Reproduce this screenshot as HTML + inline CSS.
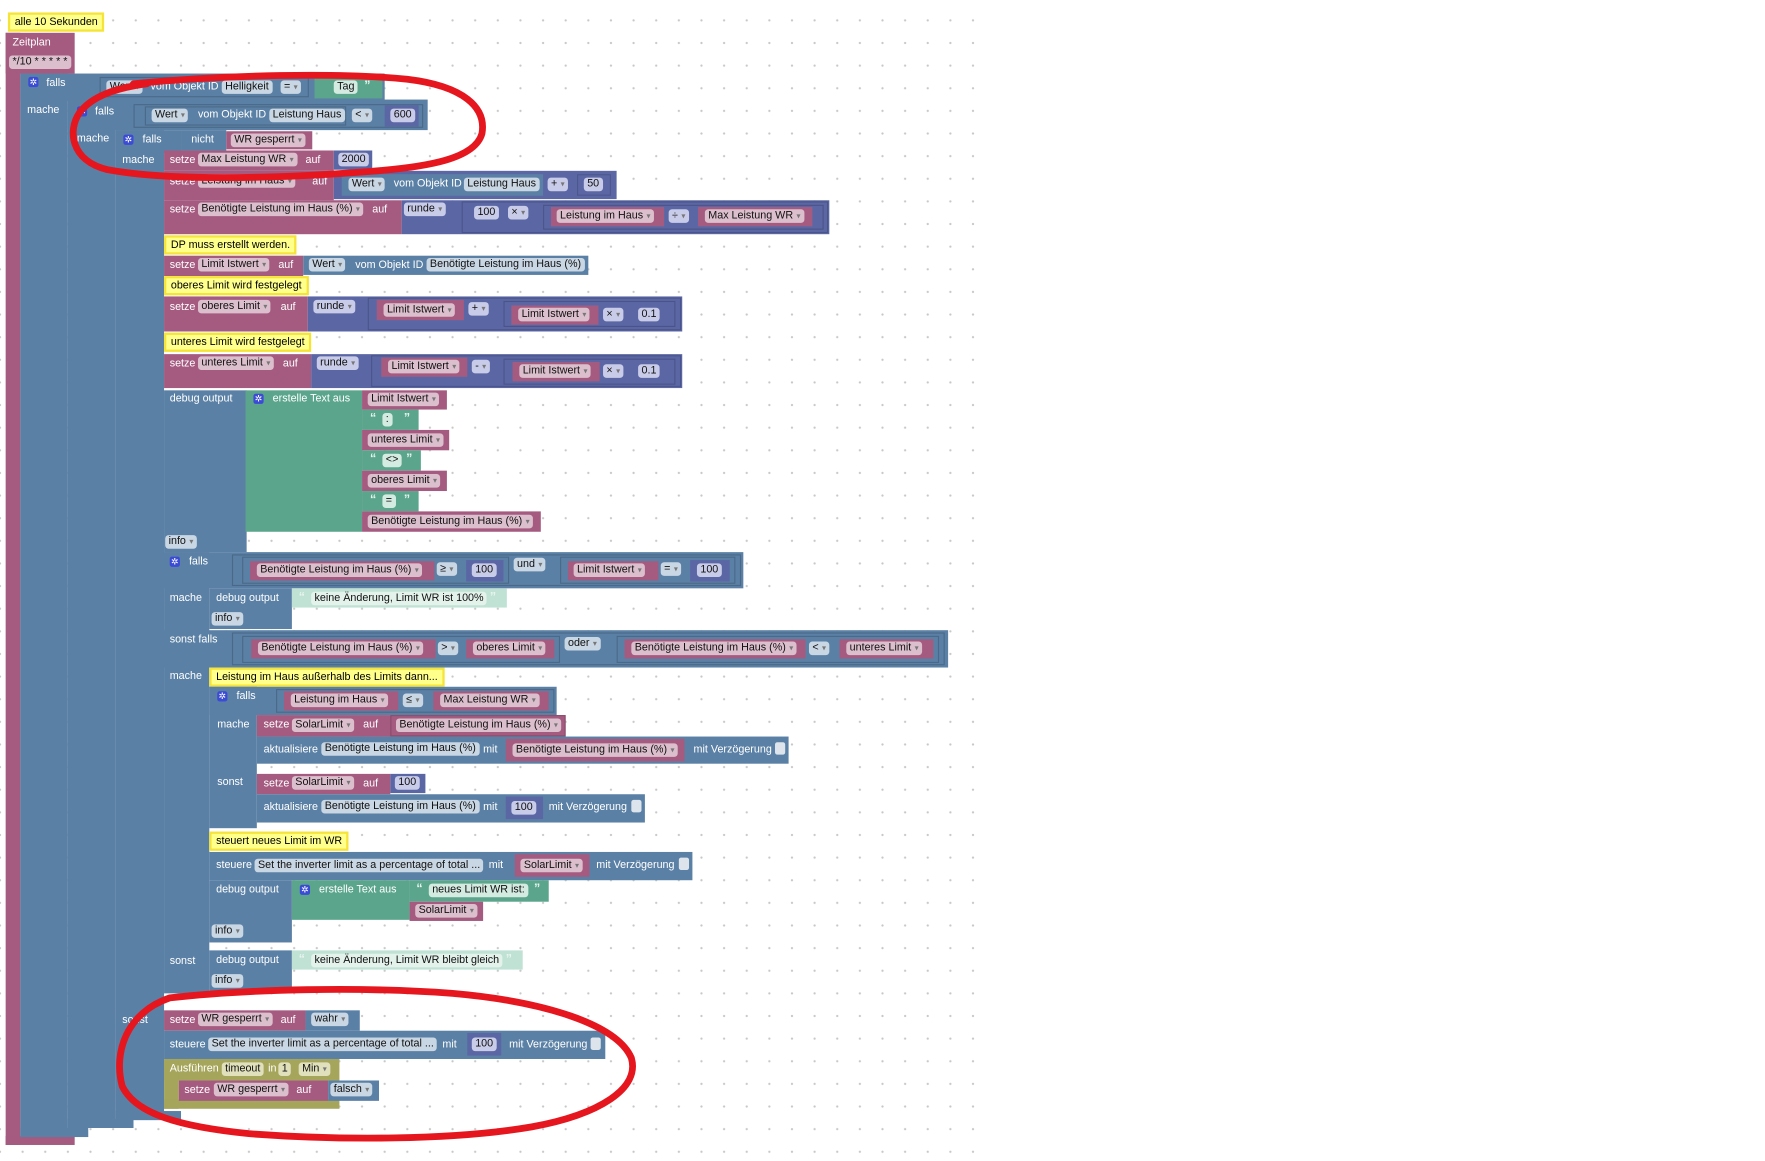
<!DOCTYPE html>
<html><head><meta charset="utf-8"><style>
html,body{margin:0;padding:0;background:#fff;width:1765px;height:1161px;overflow:hidden}
#w{position:absolute;left:0;top:0;width:1560px;height:1026px;transform:scale(1.1314);transform-origin:0 0;font-family:"Liberation Sans",Arial,sans-serif;font-size:9.5px}
#dots{position:absolute;left:0;top:0;width:862px;height:1026px;background-image:radial-gradient(circle,#c8c8c8 0.8px,transparent 1.2px);background-size:20px 20px;background-position:10px 8px}
.b{position:absolute;box-sizing:border-box}
.P{background:#a55b80}.B{background:#5b80a5}.M{background:#5b67a5}.G{background:#5ba58c}.O{background:#a5a55b}.T{background:#bfe2d5}
.in{position:absolute;box-sizing:border-box;border:1px solid rgba(0,0,0,0.18)}
.l{position:absolute;color:#fff;white-space:nowrap;line-height:12px}
.q{position:absolute;white-space:nowrap;height:12px;line-height:12px;padding:0 3px;border-radius:3px;color:#111;background:#c9d6e3}
.pp{background:#dcbfcd}.pm{background:#c9cce8}.pg{background:#d4ebe2}.po{background:#e0e0bc}.pt{background:#e4f2ec}
.dd{color:#777;font-size:7px;margin-left:3px}
.cm{position:absolute;background:#ffff8c;border:2px solid #f5e33a;padding:0 4px;height:13px;line-height:13px;white-space:nowrap;color:#000}
.gear{position:absolute;width:9px;height:9px;background:#3b4bd6;border-radius:2px;color:#fff;font-size:8px;line-height:9px;text-align:center}
.cb{position:absolute;width:9px;height:11px;background:#dde4ec;border-radius:2px}
.qt{position:absolute;color:#e8f5ef;font-size:11px;font-weight:bold;line-height:12px}
</style></head><body><div id="w">
<div id="dots"></div>

<div class="cm" style="left:7px;top:11px">alle 10 Sekunden</div>
<div class="b P" style="left:5px;top:29px;width:61px;height:36px"></div>
<div class="b P" style="left:5px;top:29px;width:13px;height:983px"></div>
<div class="b P" style="left:5px;top:1004px;width:61px;height:8px"></div>
<span class="l" style="left:11px;top:32px">Zeitplan</span>
<span class="q pp" style="left:8px;top:49px;padding:0 3px">*/10 * * * * *</span>

<div class="b B" style="left:18px;top:65px;width:322px;height:24px"></div>
<div class="b B" style="left:18px;top:65px;width:42px;height:940px"></div>
<div class="b B" style="left:18px;top:997px;width:60px;height:8px"></div>
<div class="gear" style="left:25px;top:68px">✲</div>
<span class="l" style="left:41px;top:68px">falls</span>
<div class="in" style="left:88px;top:68px;width:185px;height:18px"></div>
<span class="q" style="left:94px;top:71px">Wert<span class="dd">▾</span></span>
<span class="l" style="left:133px;top:71px">vom Objekt ID</span>
<span class="q" style="left:196px;top:71px">Helligkeit</span>
<span class="q" style="left:248px;top:71px">=<span class="dd">▾</span></span>
<div class="b G" style="left:278px;top:67px;width:60px;height:20px"></div>
<span class="q pg" style="left:295px;top:71px">Tag</span>
<span class="qt" style="left:322px;top:70px">”</span>
<span class="l" style="left:24px;top:92px">mache</span>

<div class="b B" style="left:60px;top:88px;width:318px;height:27px"></div>
<div class="b B" style="left:60px;top:88px;width:42px;height:909px"></div>
<div class="b B" style="left:60px;top:989px;width:58px;height:8px"></div>
<div class="gear" style="left:68px;top:94px">✲</div>
<span class="l" style="left:84px;top:93px">falls</span>
<div class="in" style="left:118px;top:92px;width:256px;height:21px"></div>
<div class="in" style="left:128px;top:94px;width:178px;height:17px"></div>
<span class="q" style="left:134px;top:96px">Wert<span class="dd">▾</span></span>
<span class="l" style="left:175px;top:96px">vom Objekt ID</span>
<span class="q" style="left:238px;top:96px">Leistung Haus</span>
<span class="q" style="left:311px;top:96px">&lt;<span class="dd">▾</span></span>
<div class="b M" style="left:340px;top:93px;width:30px;height:19px"></div>
<span class="q pm" style="left:345px;top:96px">600</span>
<span class="l" style="left:68px;top:117px">mache</span>

<div class="b B" style="left:102px;top:115px;width:58px;height:20px"></div>
<div class="b B" style="left:160px;top:115px;width:40px;height:18px"></div>
<div class="b P" style="left:200px;top:116px;width:76px;height:16px"></div>
<div class="b B" style="left:102px;top:115px;width:43px;height:875px"></div>
<div class="b B" style="left:102px;top:982px;width:58px;height:8px"></div>
<div class="gear" style="left:109px;top:119px">✲</div>
<span class="l" style="left:126px;top:118px">falls</span>
<span class="l" style="left:169px;top:118px">nicht</span>
<span class="q pp" style="left:204px;top:118px">WR gesperrt<span class="dd">▾</span></span>
<span class="l" style="left:108px;top:136px">mache</span>

<div class="b P" style="left:145px;top:133px;width:150px;height:18px"></div>
<div class="b M" style="left:295px;top:133px;width:34px;height:17px"></div>
<span class="l" style="left:150px;top:136px">setze</span>
<span class="q pp" style="left:175px;top:135px">Max Leistung WR<span class="dd">▾</span></span>
<span class="l" style="left:270px;top:136px">auf</span>
<span class="q pm" style="left:299px;top:135px">2000</span>

<div class="b P" style="left:145px;top:151px;width:150px;height:26px"></div>
<div class="b M" style="left:295px;top:151px;width:250px;height:25px"></div>
<div class="b B" style="left:302px;top:154px;width:178px;height:19px"></div>
<span class="l" style="left:150px;top:155px">setze</span>
<span class="q pp" style="left:175px;top:154px">Leistung im Haus<span class="dd">▾</span></span>
<span class="l" style="left:276px;top:155px">auf</span>
<span class="q" style="left:308px;top:157px">Wert<span class="dd">▾</span></span>
<span class="l" style="left:348px;top:157px">vom Objekt ID</span>
<span class="q" style="left:410px;top:157px">Leistung Haus</span>
<span class="q pm" style="left:484px;top:157px">+<span class="dd">▾</span></span>
<div class="b M" style="left:510px;top:154px;width:30px;height:19px;border:1px solid rgba(0,0,0,.15)"></div>
<span class="q pm" style="left:516px;top:157px">50</span>

<div class="b P" style="left:145px;top:177px;width:210px;height:30px"></div>
<div class="b M" style="left:355px;top:177px;width:378px;height:30px"></div>
<div class="in" style="left:408px;top:178px;width:324px;height:28px"></div>
<div class="in" style="left:480px;top:181px;width:248px;height:22px"></div>
<span class="l" style="left:150px;top:180px">setze</span>
<span class="q pp" style="left:175px;top:179px">Benötigte Leistung im Haus (%)<span class="dd">▾</span></span>
<span class="l" style="left:329px;top:180px">auf</span>
<span class="q pm" style="left:357px;top:179px">runde<span class="dd">▾</span></span>
<span class="q pm" style="left:419px;top:182px">100</span>
<span class="q pm" style="left:449px;top:182px">×<span class="dd">▾</span></span>
<div class="b P" style="left:487px;top:183px;width:100px;height:17px"></div>
<span class="q pp" style="left:492px;top:185px">Leistung im Haus<span class="dd">▾</span></span>
<span class="q pm" style="left:591px;top:185px">÷<span class="dd">▾</span></span>
<div class="b P" style="left:617px;top:183px;width:101px;height:17px"></div>
<span class="q pp" style="left:623px;top:185px">Max Leistung WR<span class="dd">▾</span></span>

<div class="cm" style="left:145px;top:208px">DP muss erstellt werden.</div>

<div class="b P" style="left:145px;top:226px;width:123px;height:18px"></div>
<div class="b B" style="left:268px;top:226px;width:252px;height:17px"></div>
<span class="l" style="left:150px;top:229px">setze</span>
<span class="q pp" style="left:175px;top:228px">Limit Istwert<span class="dd">▾</span></span>
<span class="l" style="left:246px;top:229px">auf</span>
<span class="q" style="left:273px;top:228px">Wert<span class="dd">▾</span></span>
<span class="l" style="left:314px;top:229px">vom Objekt ID</span>
<span class="q" style="left:377px;top:228px">Benötigte Leistung im Haus (%)</span>

<div class="cm" style="left:145px;top:244px">oberes Limit wird festgelegt</div>

<div class="b P" style="left:145px;top:262px;width:127px;height:31px"></div>
<div class="b M" style="left:272px;top:262px;width:331px;height:31px"></div>
<div class="in" style="left:325px;top:263px;width:277px;height:29px"></div>
<div class="in" style="left:445px;top:266px;width:152px;height:23px"></div>
<span class="l" style="left:150px;top:266px">setze</span>
<span class="q pp" style="left:175px;top:265px">oberes Limit<span class="dd">▾</span></span>
<span class="l" style="left:248px;top:266px">auf</span>
<span class="q pm" style="left:277px;top:265px">runde<span class="dd">▾</span></span>
<div class="b P" style="left:333px;top:265px;width:77px;height:18px"></div>
<span class="q pp" style="left:339px;top:268px">Limit Istwert<span class="dd">▾</span></span>
<span class="q pm" style="left:414px;top:267px">+<span class="dd">▾</span></span>
<div class="b P" style="left:452px;top:270px;width:77px;height:17px"></div>
<span class="q pp" style="left:458px;top:272px">Limit Istwert<span class="dd">▾</span></span>
<span class="q pm" style="left:533px;top:272px">×<span class="dd">▾</span></span>
<span class="q pm" style="left:564px;top:272px">0.1</span>

<div class="cm" style="left:145px;top:294px">unteres Limit wird festgelegt</div>

<div class="b P" style="left:145px;top:313px;width:130px;height:30px"></div>
<div class="b M" style="left:275px;top:313px;width:328px;height:30px"></div>
<div class="in" style="left:328px;top:314px;width:274px;height:28px"></div>
<div class="in" style="left:445px;top:317px;width:152px;height:23px"></div>
<span class="l" style="left:150px;top:316px">setze</span>
<span class="q pp" style="left:175px;top:315px">unteres Limit<span class="dd">▾</span></span>
<span class="l" style="left:250px;top:316px">auf</span>
<span class="q pm" style="left:280px;top:315px">runde<span class="dd">▾</span></span>
<div class="b P" style="left:337px;top:316px;width:76px;height:17px"></div>
<span class="q pp" style="left:343px;top:318px">Limit Istwert<span class="dd">▾</span></span>
<span class="q pm" style="left:417px;top:318px">-<span class="dd">▾</span></span>
<div class="b P" style="left:453px;top:320px;width:77px;height:17px"></div>
<span class="q pp" style="left:459px;top:322px">Limit Istwert<span class="dd">▾</span></span>
<span class="q pm" style="left:533px;top:322px">×<span class="dd">▾</span></span>
<span class="q pm" style="left:564px;top:322px">0.1</span>

<div class="b B" style="left:145px;top:345px;width:73px;height:143px"></div>
<div class="b G" style="left:217px;top:345px;width:103px;height:125px"></div>
<span class="l" style="left:150px;top:347px">debug output</span>
<div class="gear" style="left:224px;top:348px">✲</div>
<span class="l" style="left:241px;top:347px">erstelle Text aus</span>
<div class="b P" style="left:320px;top:345px;width:75px;height:17px"></div>
<span class="q pp" style="left:325px;top:347px">Limit Istwert<span class="dd">▾</span></span>
<div class="b G" style="left:320px;top:362px;width:50px;height:18px"></div>
<span class="qt" style="left:327px;top:364px">“</span><span class="q pg" style="left:338px;top:365px;padding:0 3px">:</span><span class="qt" style="left:357px;top:364px">”</span>
<div class="b P" style="left:320px;top:380px;width:77px;height:18px"></div>
<span class="q pp" style="left:325px;top:383px">unteres Limit<span class="dd">▾</span></span>
<div class="b G" style="left:320px;top:398px;width:52px;height:18px"></div>
<span class="qt" style="left:327px;top:400px">“</span><span class="q pg" style="left:338px;top:401px;padding:0 3px">&lt;&gt;</span><span class="qt" style="left:359px;top:400px">”</span>
<div class="b P" style="left:320px;top:416px;width:75px;height:18px"></div>
<span class="q pp" style="left:325px;top:419px">oberes Limit<span class="dd">▾</span></span>
<div class="b G" style="left:320px;top:434px;width:50px;height:18px"></div>
<span class="qt" style="left:327px;top:436px">“</span><span class="q pg" style="left:338px;top:437px;padding:0 3px">=</span><span class="qt" style="left:357px;top:436px">”</span>
<div class="b P" style="left:320px;top:452px;width:158px;height:18px"></div>
<span class="q pp" style="left:325px;top:455px">Benötigte Leistung im Haus (%)<span class="dd">▾</span></span>
<span class="q" style="left:146px;top:473px">info<span class="dd">▾</span></span>

<div class="b B" style="left:145px;top:488px;width:512px;height:32px"></div>
<div class="b B" style="left:145px;top:488px;width:40px;height:390px"></div>
<div class="b B" style="left:145px;top:557px;width:693px;height:33px"></div>
<div class="gear" style="left:150px;top:492px">✲</div>
<span class="l" style="left:167px;top:491px">falls</span>
<div class="in" style="left:205px;top:490px;width:450px;height:28px"></div>
<div class="in" style="left:214px;top:492px;width:236px;height:24px"></div>
<div class="b P" style="left:221px;top:496px;width:163px;height:17px"></div>
<span class="q pp" style="left:227px;top:498px">Benötigte Leistung im Haus (%)<span class="dd">▾</span></span>
<span class="q" style="left:386px;top:497px">≥<span class="dd">▾</span></span>
<div class="b M" style="left:412px;top:495px;width:33px;height:19px"></div>
<span class="q pm" style="left:417px;top:498px">100</span>
<span class="q" style="left:454px;top:493px">und<span class="dd">▾</span></span>
<div class="in" style="left:495px;top:492px;width:155px;height:24px"></div>
<div class="b P" style="left:502px;top:496px;width:80px;height:17px"></div>
<span class="q pp" style="left:507px;top:498px">Limit Istwert<span class="dd">▾</span></span>
<span class="q" style="left:584px;top:497px">=<span class="dd">▾</span></span>
<div class="b M" style="left:610px;top:495px;width:35px;height:19px"></div>
<span class="q pm" style="left:616px;top:498px">100</span>
<span class="l" style="left:150px;top:523px">mache</span>
<div class="b B" style="left:185px;top:520px;width:73px;height:36px"></div>
<span class="l" style="left:191px;top:523px">debug output</span>
<span class="q" style="left:187px;top:541px">info<span class="dd">▾</span></span>
<div class="b T" style="left:258px;top:520px;width:190px;height:17px"></div>
<span class="qt" style="left:264px;top:522px">“</span><span class="q pt" style="left:275px;top:523px">keine Änderung, Limit WR ist 100%</span><span class="qt" style="left:433px;top:522px">”</span>

<span class="l" style="left:150px;top:560px">sonst falls</span>
<div class="in" style="left:205px;top:559px;width:630px;height:29px"></div>
<div class="in" style="left:214px;top:562px;width:281px;height:24px"></div>
<div class="b P" style="left:222px;top:565px;width:163px;height:17px"></div>
<span class="q pp" style="left:228px;top:567px">Benötigte Leistung im Haus (%)<span class="dd">▾</span></span>
<span class="q" style="left:387px;top:567px">&gt;<span class="dd">▾</span></span>
<div class="b P" style="left:412px;top:565px;width:78px;height:17px"></div>
<span class="q pp" style="left:418px;top:567px">oberes Limit<span class="dd">▾</span></span>
<span class="q" style="left:499px;top:563px">oder<span class="dd">▾</span></span>
<div class="in" style="left:545px;top:562px;width:285px;height:24px"></div>
<div class="b P" style="left:552px;top:565px;width:160px;height:17px"></div>
<span class="q pp" style="left:558px;top:567px">Benötigte Leistung im Haus (%)<span class="dd">▾</span></span>
<span class="q" style="left:715px;top:567px">&lt;<span class="dd">▾</span></span>
<div class="b P" style="left:742px;top:565px;width:83px;height:17px"></div>
<span class="q pp" style="left:748px;top:567px">unteres Limit<span class="dd">▾</span></span>

<span class="l" style="left:150px;top:592px">mache</span>
<div class="cm" style="left:185px;top:590px">Leistung im Haus außerhalb des Limits dann...</div>

<div class="b B" style="left:185px;top:607px;width:307px;height:25px"></div>
<div class="b B" style="left:185px;top:607px;width:42px;height:125px"></div>
<div class="gear" style="left:192px;top:611px">✲</div>
<span class="l" style="left:209px;top:610px">falls</span>
<div class="in" style="left:244px;top:609px;width:246px;height:21px"></div>
<div class="b P" style="left:251px;top:611px;width:101px;height:17px"></div>
<span class="q pp" style="left:257px;top:613px">Leistung im Haus<span class="dd">▾</span></span>
<span class="q" style="left:356px;top:613px">≤<span class="dd">▾</span></span>
<div class="b P" style="left:383px;top:611px;width:102px;height:17px"></div>
<span class="q pp" style="left:389px;top:613px">Max Leistung WR<span class="dd">▾</span></span>
<span class="l" style="left:192px;top:635px">mache</span>
<div class="b P" style="left:227px;top:632px;width:273px;height:19px"></div>
<span class="l" style="left:233px;top:635px">setze</span>
<span class="q pp" style="left:258px;top:635px">SolarLimit<span class="dd">▾</span></span>
<span class="l" style="left:321px;top:635px">auf</span>
<div class="in" style="left:345px;top:632px;width:155px;height:19px"></div>
<span class="q pp" style="left:350px;top:635px">Benötigte Leistung im Haus (%)<span class="dd">▾</span></span>
<div class="b B" style="left:227px;top:651px;width:470px;height:24px"></div>
<span class="l" style="left:233px;top:657px">aktualisiere</span>
<span class="q" style="left:284px;top:656px">Benötigte Leistung im Haus (%)</span>
<span class="l" style="left:427px;top:657px">mit</span>
<div class="b P" style="left:447px;top:653px;width:158px;height:20px"></div>
<span class="q pp" style="left:453px;top:657px">Benötigte Leistung im Haus (%)<span class="dd">▾</span></span>
<span class="l" style="left:613px;top:657px">mit Verzögerung</span>
<div class="cb" style="left:685px;top:656px"></div>
<span class="l" style="left:192px;top:686px">sonst</span>
<div class="b P" style="left:227px;top:684px;width:118px;height:18px"></div>
<span class="l" style="left:233px;top:687px">setze</span>
<span class="q pp" style="left:258px;top:686px">SolarLimit<span class="dd">▾</span></span>
<span class="l" style="left:321px;top:687px">auf</span>
<div class="b M" style="left:345px;top:684px;width:31px;height:17px"></div>
<span class="q pm" style="left:349px;top:686px">100</span>
<div class="b B" style="left:227px;top:702px;width:343px;height:25px"></div>
<span class="l" style="left:233px;top:708px">aktualisiere</span>
<span class="q" style="left:284px;top:707px">Benötigte Leistung im Haus (%)</span>
<span class="l" style="left:427px;top:708px">mit</span>
<div class="b M" style="left:447px;top:704px;width:33px;height:20px"></div>
<span class="q pm" style="left:452px;top:708px">100</span>
<span class="l" style="left:485px;top:708px">mit Verzögerung</span>
<div class="cb" style="left:558px;top:707px"></div>

<div class="cm" style="left:185px;top:735px">steuert neues Limit im WR</div>
<div class="b B" style="left:185px;top:753px;width:427px;height:25px"></div>
<span class="l" style="left:191px;top:759px">steuere</span>
<span class="q" style="left:225px;top:759px">Set the inverter limit as a percentage of total ...</span>
<span class="l" style="left:432px;top:759px">mit</span>
<div class="b P" style="left:455px;top:755px;width:66px;height:20px"></div>
<span class="q pp" style="left:460px;top:759px">SolarLimit<span class="dd">▾</span></span>
<span class="l" style="left:527px;top:759px">mit Verzögerung</span>
<div class="cb" style="left:600px;top:758px"></div>

<div class="b B" style="left:185px;top:778px;width:73px;height:55px"></div>
<span class="l" style="left:191px;top:781px">debug output</span>
<span class="q" style="left:187px;top:817px">info<span class="dd">▾</span></span>
<div class="b G" style="left:258px;top:778px;width:104px;height:35px"></div>
<div class="gear" style="left:265px;top:782px">✲</div>
<span class="l" style="left:282px;top:781px">erstelle Text aus</span>
<div class="b G" style="left:362px;top:778px;width:123px;height:19px"></div>
<span class="qt" style="left:368px;top:780px">“</span><span class="q pg" style="left:379px;top:781px">neues Limit WR ist:</span><span class="qt" style="left:472px;top:780px">”</span>
<div class="b P" style="left:362px;top:797px;width:65px;height:17px"></div>
<span class="q pp" style="left:367px;top:799px">SolarLimit<span class="dd">▾</span></span>

<span class="l" style="left:150px;top:844px">sonst</span>
<div class="b B" style="left:185px;top:840px;width:73px;height:38px"></div>
<span class="l" style="left:191px;top:843px">debug output</span>
<span class="q" style="left:187px;top:861px">info<span class="dd">▾</span></span>
<div class="b T" style="left:258px;top:840px;width:204px;height:17px"></div>
<span class="qt" style="left:264px;top:842px">“</span><span class="q pt" style="left:275px;top:843px">keine Änderung, Limit WR bleibt gleich</span><span class="qt" style="left:447px;top:842px">”</span>

<span class="l" style="left:108px;top:896px">sonst</span>
<div class="b P" style="left:145px;top:893px;width:125px;height:18px"></div>
<span class="l" style="left:150px;top:896px">setze</span>
<span class="q pp" style="left:175px;top:895px">WR gesperrt<span class="dd">▾</span></span>
<span class="l" style="left:248px;top:896px">auf</span>
<div class="b B" style="left:270px;top:893px;width:48px;height:18px"></div>
<span class="q" style="left:275px;top:895px">wahr<span class="dd">▾</span></span>
<div class="b B" style="left:145px;top:911px;width:390px;height:25px"></div>
<span class="l" style="left:150px;top:918px">steuere</span>
<span class="q" style="left:184px;top:917px">Set the inverter limit as a percentage of total ...</span>
<span class="l" style="left:391px;top:918px">mit</span>
<div class="b M" style="left:413px;top:913px;width:30px;height:20px"></div>
<span class="q pm" style="left:417px;top:917px">100</span>
<span class="l" style="left:450px;top:918px">mit Verzögerung</span>
<div class="cb" style="left:522px;top:917px"></div>
<div class="b O" style="left:145px;top:936px;width:155px;height:19px"></div>
<div class="b O" style="left:145px;top:936px;width:13px;height:44px"></div>
<div class="b O" style="left:145px;top:972px;width:155px;height:8px"></div>
<span class="l" style="left:150px;top:939px">Ausführen</span>
<span class="q po" style="left:196px;top:939px">timeout</span>
<span class="l" style="left:237px;top:939px">in</span>
<span class="q po" style="left:246px;top:939px">1</span>
<span class="q po" style="left:264px;top:939px">Min<span class="dd">▾</span></span>
<div class="b P" style="left:158px;top:955px;width:132px;height:18px"></div>
<span class="l" style="left:163px;top:958px">setze</span>
<span class="q pp" style="left:189px;top:957px">WR gesperrt<span class="dd">▾</span></span>
<span class="l" style="left:262px;top:958px">auf</span>
<div class="b B" style="left:290px;top:955px;width:45px;height:18px"></div>
<span class="q" style="left:292px;top:957px">falsch<span class="dd">▾</span></span>

<svg style="position:absolute;left:0;top:0" width="1560" height="1026">
<path d="M118,74 C200,66 300,64 360,70 C410,76 430,95 426,118 C420,140 380,148 320,152 C240,158 150,160 95,150 C62,142 60,115 70,100 C80,86 100,78 130,74" fill="none" stroke="#e5161e" stroke-width="6" stroke-linecap="round"/>
<path d="M150,882 C220,874 320,872 400,878 C480,885 545,905 558,935 C566,962 530,985 470,996 C400,1008 300,1008 220,1002 C160,996 120,985 108,960 C100,930 112,895 150,882" fill="none" stroke="#e5161e" stroke-width="6" stroke-linecap="round"/>
</svg>
</div></body></html>
